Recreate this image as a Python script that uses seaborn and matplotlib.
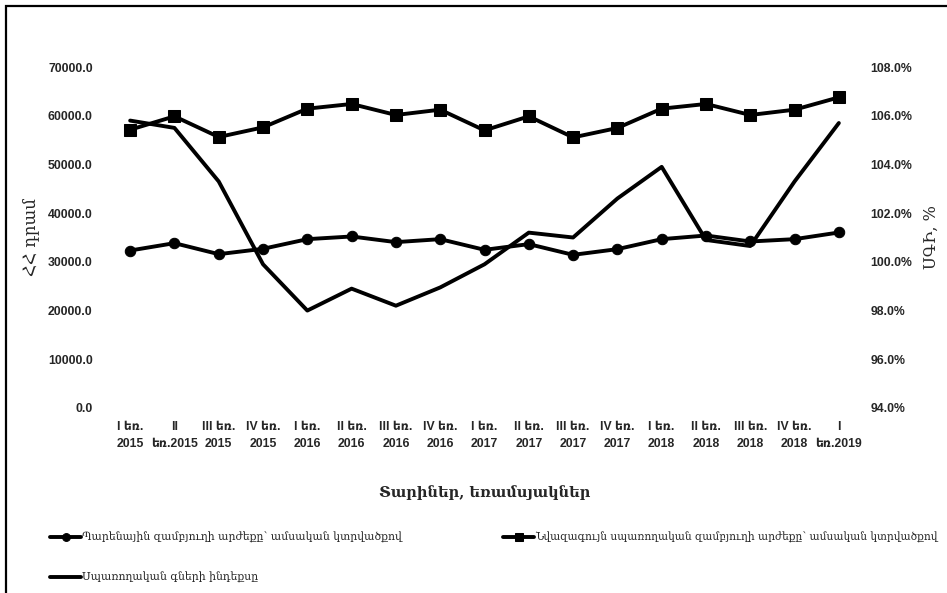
import pandas as pd
import seaborn as sns
import matplotlib.pyplot as plt
from matplotlib.patches import Rectangle

# quarters, I 2015 .. I 2019
quarters = ["I եռ.\n2015", "II\nեռ.2015", "III եռ.\n2015", "IV եռ.\n2015",
            "I եռ.\n2016", "II եռ.\n2016", "III եռ.\n2016", "IV եռ.\n2016",
            "I եռ.\n2017", "II եռ.\n2017", "III եռ.\n2017", "IV եռ.\n2017",
            "I եռ.\n2018", "II եռ.\n2018", "III եռ.\n2018", "IV եռ.\n2018",
            "I\nեռ.2019"]

# food basket value, AMD per month
food_basket = [32330, 33840, 31580, 32680, 34660, 35210, 34050, 34660,
               32470, 33640, 31440, 32610, 34660, 35410, 34180, 34660, 36030]

# minimum consumer basket value, AMD per month
min_basket = [57130, 59870, 55630, 57610, 61450, 62410, 60150, 61240,
              56990, 59870, 55550, 57480, 61450, 62410, 60150, 61240, 63770]

# consumer price index, %
cpi = [105.8, 105.5, 103.3, 99.9, 98.0, 98.9, 98.2, 98.95,
       99.9, 101.2, 101.0, 102.6, 103.9, 100.9, 100.65, 103.3, 105.7]

lbl_food = "Պարենային զամբյուղի արժեքը՝ ամսական կտրվածքով"
lbl_min = "Նվազագույն սպառողական զամբյուղի արժեքը՝ ամսական կտրվածքով"
lbl_cpi = "Սպառողական գների ինդեքսը"

df = pd.DataFrame({
    "pos": range(len(quarters)),
    "food": food_basket,
    "min": min_basket,
    "cpi": cpi,
})

sns.set_theme(style="white")
plt.rcParams['font.family'] = ['DejaVu Serif']

tick_font = dict(family=['Liberation Sans', 'DejaVu Sans'],
                 weight='bold', size=8.8)

fig = plt.figure(figsize=(9.47, 5.93), dpi=100)
ax = fig.add_axes([108 / 947, 1 - 408 / 593, (861 - 108) / 947, (408 - 67) / 593])
ax2 = ax.twinx()

sns.lineplot(data=df, x="pos", y="food", ax=ax, color="black", linewidth=2.8,
             marker="o", markersize=7.5, markeredgecolor="black", label=lbl_food,
             legend=False)
sns.lineplot(data=df, x="pos", y="min", ax=ax, color="black", linewidth=2.8,
             marker="s", markersize=8.5, markeredgecolor="black", label=lbl_min,
             legend=False)
sns.lineplot(data=df, x="pos", y="cpi", ax=ax2, color="black", linewidth=2.8,
             label=lbl_cpi, legend=False)

ax.set_xlim(-0.5, len(quarters) - 0.5)
ax.set_ylim(0, 70000)
ax.set_yticks(range(0, 70001, 10000))
ax.set_yticklabels([f"{v:.1f}" for v in range(0, 70001, 10000)], **tick_font)
ax.set_xticks(range(len(quarters)))
ax.set_xticklabels(quarters, **tick_font, linespacing=1.6)

ax2.set_ylim(94, 108)
ax2.set_yticks(range(94, 109, 2))
ax2.set_yticklabels([f"{v:.1f}%" for v in range(94, 109, 2)], **tick_font)

for a in (ax, ax2):
    for s in a.spines.values():
        s.set_visible(False)
    a.tick_params(length=0)
    a.grid(False)
ax.tick_params(axis='y', pad=11)
ax.tick_params(axis='x', pad=9)
ax2.tick_params(axis='y', pad=7)

ax.set_xlabel("Տարիներ, եռամսյակներ", fontsize=10.5, fontweight='bold')
ax.xaxis.set_label_coords(0.5, -(485 - 408) / 341)
ax.set_ylabel("ՀՀ դրամ", fontsize=12)
ax.yaxis.set_label_coords((39 - 108) / 753, 0.5)
ax2.set_ylabel("ՍԳԻ, %", fontsize=11.5)
ax2.yaxis.set_label_coords((923 - 108) / 753, 0.5)

h1, l1 = ax.get_legend_handles_labels()
h2, l2 = ax2.get_legend_handles_labels()
handles = dict(zip(l1 + l2, h1 + h2))

leg_kw = dict(frameon=False, fontsize=7.8, handlelength=2.9, handletextpad=0.1,
              labelspacing=2.7, borderaxespad=0, borderpad=0, markerscale=0.75)
fig.legend([handles[lbl_food], handles[lbl_cpi]], [lbl_food, lbl_cpi],
           loc="upper left", bbox_to_anchor=(50 / 947, 1 - 532 / 593), **leg_kw)
leg2_kw = dict(leg_kw, fontsize=7.7)
fig.legend([handles[lbl_min]], [lbl_min],
           loc="upper left", bbox_to_anchor=(503 / 947, 1 - 532 / 593), **leg2_kw)

# chart frame
fig.patches.append(Rectangle((6 / 947, -0.1), 1.2, 1.1 - 6 / 593,
                             transform=fig.transFigure, fill=False,
                             edgecolor="black", linewidth=1.6))

fig.savefig("out.png", dpi=100)
